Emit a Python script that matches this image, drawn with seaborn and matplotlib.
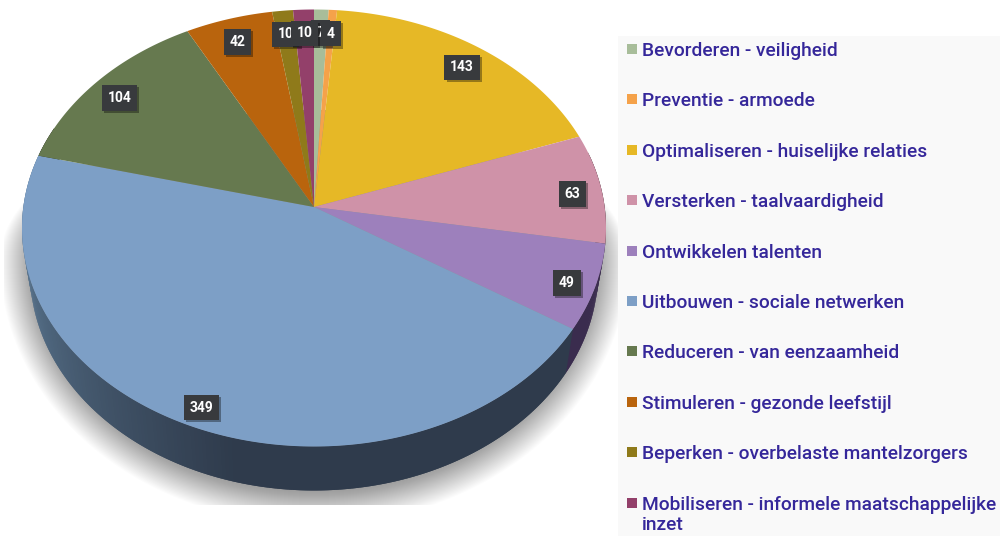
import numpy as np
import matplotlib
matplotlib.use("Agg")
import matplotlib.pyplot as plt
import matplotlib.patheffects as pe
import seaborn as sns
from matplotlib.patches import Rectangle

categories = ["Bevorderen - veiligheid", "Preventie - armoede",
              "Optimaliseren - huiselijke relaties", "Versterken - taalvaardigheid",
              "Ontwikkelen talenten", "Uitbouwen - sociale netwerken",
              "Reduceren - van eenzaamheid", "Stimuleren - gezonde leefstijl",
              "Beperken - overbelaste mantelzorgers",
              "Mobiliseren - informele maatschappelijke\ninzet"]
values = [7, 4, 143, 63, 49, 349, 104, 42, 10, 10]
colors = ["#a8bd9a", "#f5a24a", "#e6b826", "#cf92a8", "#9d80bc",
          "#7d9fc6", "#66794f", "#b9640d", "#8f7a1a", "#93406a"]
label_order = [0, 8, 9, 1, 2, 3, 4, 5, 6, 7]

sns.set_theme(style="white", font="Roboto")
palette = sns.color_palette(colors)

fig = plt.figure(figsize=(10, 5.36), dpi=100)
ax = fig.add_axes([0, 0, 1, 1])
ax.set_xlim(0, 1000)
ax.set_ylim(536, 0)
ax.axis("off")

APEX_X, APEX_Y = 314, 207          # where the slices meet (perspective apex)
CX, CY, A, B = 314, 228, 292, 218.5  # top-face ellipse
WY, WA = 272, 284                  # bottom-edge ellipse of the side wall


def rim(t, cy=CY, a=A, b=B):
    """Point on an ellipse for pie angle t, with the perspective squeeze."""
    t = np.asarray(t, dtype=float)
    phi = t - 0.105 * np.sin(t)
    return CX + a * np.sin(phi), cy - b * np.cos(phi)


full = np.linspace(0, 2 * np.pi, 400)

# soft ground shadow (its upper half stays hidden behind the pie)
clip = Rectangle((4, 0), 1000, 505, transform=ax.transData)
for k in range(40, 0, -1):
    c = np.cos(full)
    x = CX + (WA - 10 + k) * np.sin(full)
    y = WY - 12 - np.where(c > 0, 150, B + 6 + k) * c
    p = ax.fill(x, y, color="black", alpha=0.0115, lw=0, zorder=1)[0]
    p.set_clip_path(clip)

# side wall with a lighting gradient
edges = np.cumsum([0] + values) / sum(values) * 2 * np.pi
wall_t = np.linspace(np.pi * 0.42, np.pi * 1.62, 300)
wall_dark = np.array(sns.color_palette(["#2f3b4c"])[0])
wall_light = np.array(sns.color_palette(["#5f7d98"])[0])
wall_purple = sns.color_palette(["#3a2c4e"])[0]
for j, (t0, t1) in enumerate(zip(wall_t[:-1], wall_t[1:])):
    mid = (t0 + t1) / 2
    idx = min(np.searchsorted(edges, mid) - 1, len(values) - 1)
    if idx == 5:
        light = np.clip((mid - np.pi * 1.08) / (np.pi * 0.42), 0, 1)
        col = wall_dark * (1 - light) + wall_light * light
    elif idx == 4:
        col = wall_purple
    else:
        col = np.array(palette[idx]) * 0.4
    t_end = wall_t[min(j + 2, len(wall_t) - 1)]
    xa, ya = rim([t0, t_end])
    xb, yb = rim([t0, t_end], WY, WA, B)
    ax.fill([xa[0], xa[1], xb[1], xb[0]], [ya[0], ya[1], yb[1], yb[0]],
            color=col, lw=0, zorder=2)

# top face
for i, val in enumerate(values):
    t = np.linspace(edges[i], edges[i + 1], max(int(val), 6) + 2)
    x, y = rim(t)
    ax.fill(np.r_[APEX_X, x], np.r_[APEX_Y, y], color=palette[i], lw=0, zorder=3)

# data labels
for i in label_order:
    mid = (edges[i] + edges[i + 1]) / 2
    rx, ry = rim(mid)
    x = APEX_X + 0.90 * (rx - APEX_X)
    y = APEX_Y + 0.90 * (ry - APEX_Y) + 4
    z = 5 + label_order.index(i) * 0.1
    txt = ax.text(x, y, str(values[i]), color="white", fontsize=10, ha="center",
                  va="center", zorder=z, fontweight="bold",
                  bbox=dict(boxstyle="square,pad=0.42", lw=0, fc="#383a3d"))
    txt.get_bbox_patch().set_path_effects(
        [pe.SimplePatchShadow(offset=(1.5, -1.5), alpha=0.35, shadow_rgbFace="black"),
         pe.Normal()])

# legend
ax.add_patch(Rectangle((618, 36), 382, 500, fc="#f9f9f9", lw=0, zorder=10))
for i, cat in enumerate(categories):
    y = 49 + i * 50.4
    ax.add_patch(Rectangle((627, y - 5), 10, 10, fc=palette[i], lw=0, zorder=11))
    ax.text(642, y - 7, cat, color="#35279a", fontsize=13.75, fontweight="medium",
            ha="left", va="top", linespacing=1.2, zorder=11)

fig.savefig("out.png", dpi=100)
